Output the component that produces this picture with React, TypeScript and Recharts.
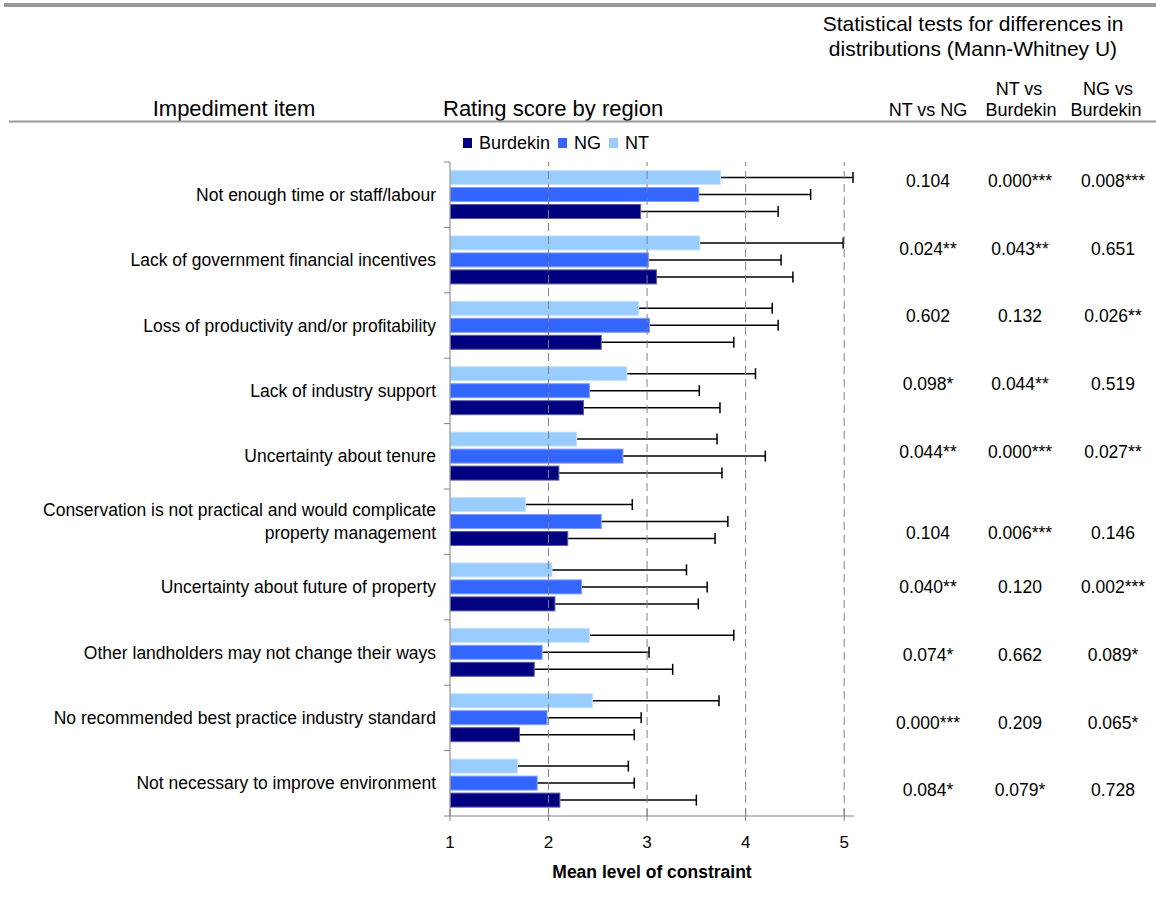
import { Bar, BarChart, ReferenceLine, XAxis, YAxis } from 'recharts'

// impediment items, top to bottom
const categories = [
  'Not enough time or staff/labour',
  'Lack of government financial incentives',
  'Loss of productivity and/or profitability',
  'Lack of industry support',
  'Uncertainty about tenure',
  'Conservation is not practical and would complicate\nproperty management',
  'Uncertainty about future of property',
  'Other landholders may not change their ways',
  'No recommended best practice industry standard',
  'Not necessary to improve environment',
]

// mean rating and upper error (sd) per region
const ntMean = [3.75, 3.54, 2.92, 2.8, 2.29, 1.77, 2.04, 2.42, 2.45, 1.69]
const ntErr = [1.34, 1.45, 1.35, 1.3, 1.42, 1.08, 1.36, 1.46, 1.28, 1.12]
const ngMean = [3.53, 3.02, 3.03, 2.42, 2.76, 2.54, 2.34, 1.94, 1.99, 1.89]
const ngErr = [1.13, 1.34, 1.3, 1.11, 1.44, 1.28, 1.27, 1.08, 0.95, 0.98]
const burMean = [2.94, 3.1, 2.54, 2.36, 2.11, 2.2, 2.07, 1.86, 1.71, 2.12]
const burErr = [1.39, 1.38, 1.34, 1.38, 1.65, 1.49, 1.45, 1.4, 1.16, 1.38]

const legendItems = ['Burdekin', 'NG', 'NT']
const xTicks = [1, 2, 3, 4, 5]
const gridTicks = [2, 3, 4, 5]
const xDomain: [number, number] = [1, 5.1]

// Mann-Whitney U p-values
const pNtNg = ['0.104', '0.024**', '0.602', '0.098*', '0.044**', '0.104', '0.040**', '0.074*', '0.000***', '0.084*']
const pNtBur = ['0.000***', '0.043**', '0.132', '0.044**', '0.000***', '0.006***', '0.120', '0.662', '0.209', '0.079*']
const pNgBur = ['0.008***', '0.651', '0.026**', '0.519', '0.027**', '0.146', '0.002***', '0.089*', '0.065*', '0.728']

const COLORS: Record<string, string> = { NT: '#99CCFF', NG: '#3366FF', Burdekin: '#000080' }
const EDGES: Record<string, string> = { NT: '#c4e1ff', NG: '#7f9dff', Burdekin: '#5a5aa6' }
const FONT = '"Liberation Sans", Arial, Helvetica, sans-serif'

const W = 1156
const H = 911
const PLOT_TOP = 162
const PLOT_LEFT = 450
const PLOT_RIGHT = 854
const PLOT_BOTTOM = 816
const BAND = (PLOT_BOTTOM - PLOT_TOP) / categories.length

const data = categories.map((name, i) => ({
  name,
  nt: ntMean[i], ntErr: ntErr[i],
  ng: ngMean[i], ngErr: ngErr[i],
  bur: burMean[i], burErr: burErr[i],
}))

function barWithError(key: 'nt' | 'ng' | 'bur', edge: string) {
  return (p: any) => {
    const { x, y, width, height, payload, fill } = p
    const v = payload[key]
    const e = payload[key + 'Err']
    const ppu = width / (v - xDomain[0])
    const cy = y + height / 2
    const x1 = x + width
    const x2 = x1 + e * ppu
    return (
      <g>
        <rect x={x + 0.5} y={y + 0.5} width={width - 1} height={height - 1} fill={fill} stroke={edge} strokeWidth={1} />
        <line x1={x1} y1={cy} x2={x2} y2={cy} stroke="#000" strokeWidth={1.5} />
        <line x1={x2} y1={cy - 5.5} x2={x2} y2={cy + 5.5} stroke="#000" strokeWidth={1.5} />
      </g>
    )
  }
}

const CatTick = (p: any) => {
  const { y, payload, index } = p
  const lines = String(payload.value).split('\n')
  const top = y - BAND / 2
  return (
    <g>
      <line x1={PLOT_LEFT - 6} y1={top} x2={PLOT_LEFT} y2={top} stroke="#808080" />
      {index === categories.length - 1 && (
        <line x1={PLOT_LEFT - 6} y1={top + BAND} x2={PLOT_LEFT} y2={top + BAND} stroke="#808080" />
      )}
      <text x={PLOT_LEFT - 14} y={y} textAnchor="end" fontSize={17.5} fill="#000" fontFamily={FONT}>
        {lines.map((l, k) => (
          <tspan key={k} x={PLOT_LEFT - 14} dy={k === 0 ? 6 - (lines.length - 1) * 11.5 : 23}>{l}</tspan>
        ))}
      </text>
    </g>
  )
}

const XTick = (p: any) => {
  const { x, payload } = p
  return (
    <g>
      <line x1={x} y1={PLOT_BOTTOM - 7} x2={x} y2={PLOT_BOTTOM + 5} stroke="#808080" />
      <text x={x} y={PLOT_BOTTOM + 32} textAnchor="middle" fontSize={17} fill="#000" fontFamily={FONT}>
        {payload.value}
      </text>
    </g>
  )
}

// approximate Arial advance widths (em) for legend layout
const ARIAL: Record<string, number> = { B: 0.667, u: 0.556, r: 0.333, d: 0.556, e: 0.556, k: 0.5, i: 0.222, n: 0.556, N: 0.722, G: 0.778, T: 0.611 }
const textWidth = (s: string, size: number) => s.split('').reduce((a, c) => a + (ARIAL[c] ?? 0.556), 0) * size

const rowY = (i: number) => 181 + i * 67.7 + (i === 5 ? 13 : 0)

export default function App() {
  let lx = 463
  const legend = legendItems.map(name => {
    const sx = lx
    lx += 16 + textWidth(name, 18) + 8
    return { name, sx }
  })

  return (
    <div style={{ position: 'relative', width: W, height: H, background: '#fff', fontFamily: FONT }}>
      <style>{'body{margin:0}'}</style>
      <BarChart
        width={W}
        height={H}
        data={data}
        layout="vertical"
        margin={{ top: PLOT_TOP, right: W - PLOT_RIGHT, bottom: 0, left: 0 }}
        barSize={15}
        barGap={2}
        style={{ position: 'absolute', left: 0, top: 0 }}
      >
        <XAxis
          type="number"
          domain={xDomain}
          ticks={xTicks}
          allowDataOverflow
          height={H - PLOT_BOTTOM}
          axisLine={{ stroke: '#808080' }}
          tickLine={false}
          tick={<XTick />}
        />
        <YAxis
          type="category"
          dataKey="name"
          width={PLOT_LEFT}
          interval={0}
          axisLine={{ stroke: '#808080' }}
          tickLine={false}
          tick={<CatTick />}
        />
        {gridTicks.map(t => (
          <ReferenceLine key={t} x={t} stroke="#808080" strokeDasharray="8 5" />
        ))}
        <Bar dataKey="nt" name="NT" fill={COLORS.NT} shape={barWithError('nt', EDGES.NT)} isAnimationActive={false} />
        <Bar dataKey="ng" name="NG" fill={COLORS.NG} shape={barWithError('ng', EDGES.NG)} isAnimationActive={false} />
        <Bar dataKey="bur" name="Burdekin" fill={COLORS.Burdekin} shape={barWithError('bur', EDGES.Burdekin)} isAnimationActive={false} />
      </BarChart>

      <svg width={W} height={H} style={{ position: 'absolute', left: 0, top: 0, pointerEvents: 'none' }} fontFamily={FONT}>
        <rect x={4} y={3} width={W - 4} height={4} fill="#999" />
        <text x={973} y={31} textAnchor="middle" fontSize={21}>Statistical tests for differences in</text>
        <text x={973} y={56} textAnchor="middle" fontSize={21}>distributions (Mann-Whitney U)</text>
        <text x={234} y={116} textAnchor="middle" fontSize={22}>Impediment item</text>
        <text x={443} y={116} fontSize={22}>Rating score by region</text>
        <text x={928} y={116} textAnchor="middle" fontSize={18}>NT vs NG</text>
        <text x={1019} y={95} textAnchor="middle" fontSize={18}>NT vs</text>
        <text x={1021} y={116} textAnchor="middle" fontSize={18}>Burdekin</text>
        <text x={1108} y={95} textAnchor="middle" fontSize={18}>NG vs</text>
        <text x={1106} y={116} textAnchor="middle" fontSize={18}>Burdekin</text>
        <rect x={9} y={120.5} width={W - 9} height={2} fill="#999" />

        {legend.map(({ name, sx }) => (
          <g key={name}>
            <rect x={sx} y={138} width={9} height={10} fill={COLORS[name]} />
            <text x={sx + 16} y={149} fontSize={18}>{name}</text>
          </g>
        ))}

        {categories.map((_, i) => (
          <g key={i} fontSize={17.5}>
            <text x={928} y={rowY(i) + 6} textAnchor="middle">{pNtNg[i]}</text>
            <text x={1020} y={rowY(i) + 6} textAnchor="middle">{pNtBur[i]}</text>
            <text x={1113} y={rowY(i) + 6} textAnchor="middle">{pNgBur[i]}</text>
          </g>
        ))}

        <text x={(PLOT_LEFT + PLOT_RIGHT) / 2} y={878} textAnchor="middle" fontSize={17.5} fontWeight="bold">
          Mean level of constraint
        </text>
      </svg>
    </div>
  )
}
